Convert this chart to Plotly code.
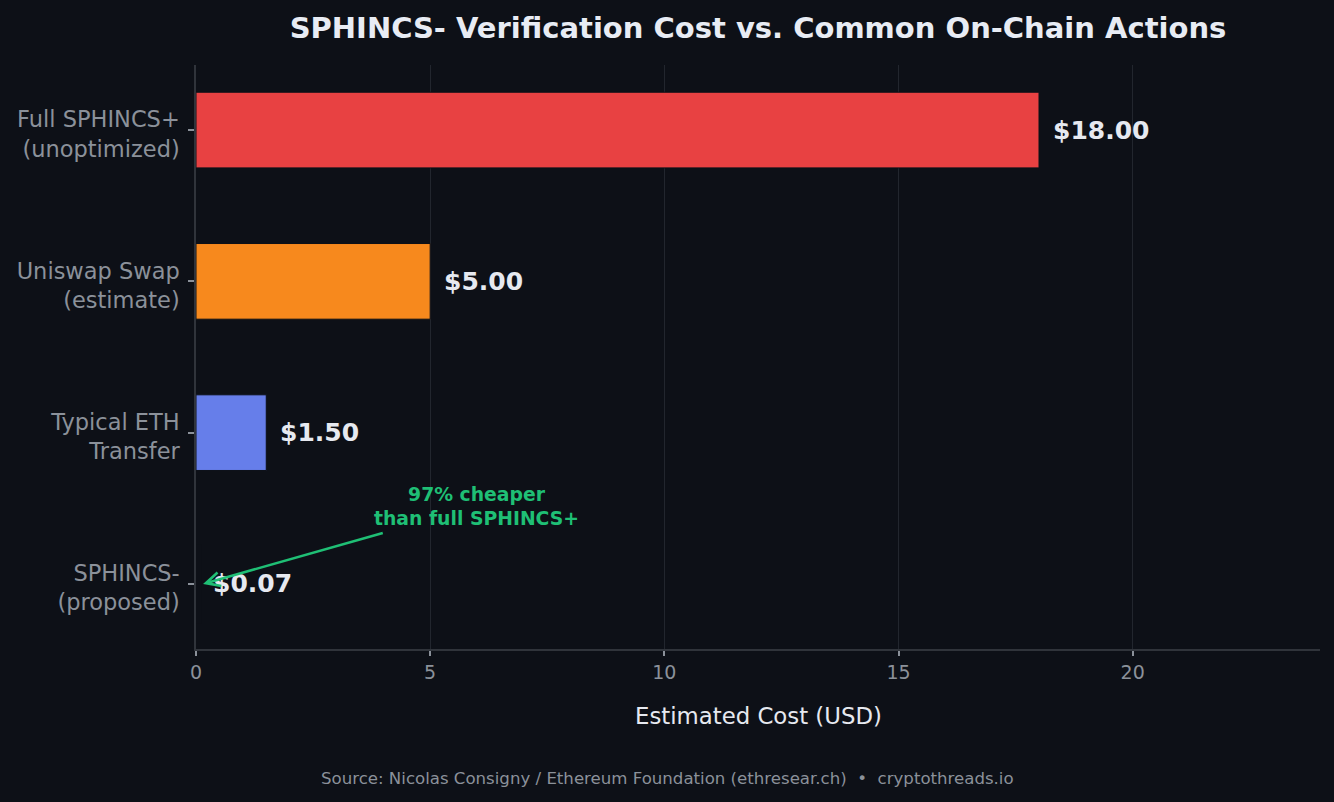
import plotly.graph_objects as go

categories = ["SPHINCS-<br>(proposed)", "Typical ETH<br>Transfer", "Uniswap Swap<br>(estimate)", "Full SPHINCS+<br>(unoptimized)"]
values = [0.07, 1.50, 5.00, 18.00]
value_labels = ["$0.07", "$1.50", "$5.00", "$18.00"]
colors = ["#1fbf75", "#667eea", "#f7891d", "#e84142"]
x_ticks = [0, 5, 10, 15, 20]

BG = "#0d1017"
FONT = "DejaVu Sans"

fig = go.Figure()
fig.add_trace(go.Bar(
    x=values, y=categories, orientation="h", width=0.5,
    marker=dict(color=colors, line=dict(color=BG, width=[4, 1, 1, 1])),
    hoverinfo="skip",
))

annotations = []
for v, c, t in zip(values, categories, value_labels):
    annotations.append(dict(x=v, y=c, text=t, showarrow=False, xanchor="left", yanchor="middle",
                            xshift=12, font=dict(family=FONT, size=25, color="#e6e9f0", weight="bold")))

# arrow
annotations.append(dict(x=0.15, y=0, ax=4.02, ay=0.34, axref="x", ayref="y", xref="x", yref="y",
                        text="", showarrow=True, arrowhead=5, arrowsize=1.1, arrowwidth=2.5,
                        arrowcolor="#1fbf75"))
annotations.append(dict(x=5.98, y=0.51, xref="x", yref="y", text="97% cheaper<br>than full SPHINCS+",
                        showarrow=False, xanchor="center", yanchor="middle", align="center",
                        font=dict(family=FONT, size=18.8, color="#1fbf75", weight="bold")))
# x axis title
annotations.append(dict(x=0.5, y=0, xref="paper", yref="paper", text="Estimated Cost (USD)", showarrow=False,
                        xanchor="center", yanchor="middle", yshift=-67,
                        font=dict(family=FONT, size=22.8, color="#e6e9f0")))
# source
annotations.append(dict(x=(667 - 196) / 1124, y=0, xref="paper", yref="paper",
                        text="Source: Nicolas Consigny / Ethereum Foundation (ethresear.ch)  •  cryptothreads.io",
                        showarrow=False, xanchor="center", yanchor="middle", yshift=-129,
                        font=dict(family=FONT, size=16.6, color="#8b919a")))

fig.update_layout(
    width=1334, height=802,
    paper_bgcolor=BG, plot_bgcolor=BG,
    margin=dict(l=196, r=14, t=65, b=153),
    showlegend=False,
    title=dict(text="SPHINCS- Verification Cost vs. Common On-Chain Actions", x=0.5, xref="paper",
               y=1 - 28 / 802, yanchor="middle", xanchor="center",
               font=dict(family=FONT, size=29, color="#e8ecf4", weight="bold")),
    annotations=annotations,
    bargap=0.5,
)
fig.update_xaxes(range=[0, 24], tickvals=x_ticks, showgrid=True, gridcolor="#22262e", gridwidth=1.2,
                 zeroline=False, showline=True, linecolor="#30343b", linewidth=1.5,
                 ticks="outside", ticklen=5, tickcolor="#8b919a", tickwidth=1.5,
                 tickfont=dict(family=FONT, size=19, color="#8b919a"))
fig.update_yaxes(range=[-0.43, 3.43], categoryorder="array", categoryarray=categories,
                 showgrid=False, zeroline=False, showline=True, linecolor="#30343b", linewidth=1.5,
                 ticks="outside", ticklen=6, tickcolor="#8b919a", tickwidth=1.5,
                 ticklabelstandoff=4, ticklabelshift=4,
                 tickfont=dict(family=FONT, size=22.5, color="#8b919a"))

fig.write_html("out.html")
